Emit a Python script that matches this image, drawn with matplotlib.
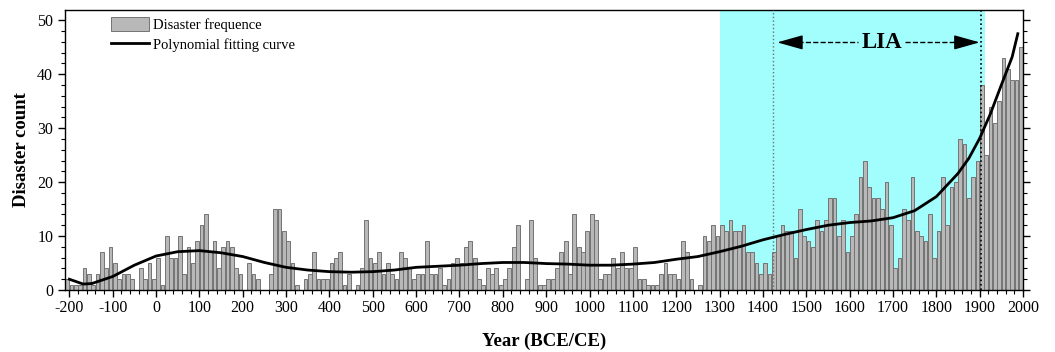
import numpy as np
import matplotlib.pyplot as plt
from matplotlib.ticker import MultipleLocator

plt.rcParams['font.family'] = ['Liberation Serif', 'DejaVu Serif']

# decade bins, plotted at the bin centres (-205 .. 1995)
bin_centres = np.arange(-205, 1996, 10)
counts = [2, 1, 1, 1, 4, 3, 1, 3, 7, 4,
          8, 5, 2, 3, 3, 2, 0, 4, 2, 5,
          2, 6, 1, 10, 6, 6, 10, 3, 8, 5,
          9, 12, 14, 7, 9, 4, 8, 9, 8, 4,
          3, 0, 5, 3, 2, 0, 0, 3, 15, 15,
          11, 9, 5, 1, 0, 2, 3, 7, 2, 2,
          2, 5, 6, 7, 1, 3, 0, 1, 4, 13,
          6, 5, 7, 3, 5, 3, 2, 7, 6, 4,
          2, 3, 3, 9, 3, 3, 4, 1, 2, 5,
          6, 5, 8, 9, 6, 2, 1, 4, 3, 4,
          1, 2, 4, 8, 12, 0, 2, 13, 6, 1,
          1, 2, 2, 4, 7, 9, 3, 14, 8, 7,
          11, 14, 13, 2, 3, 3, 6, 4, 7, 4,
          4, 8, 2, 2, 1, 1, 1, 3, 5, 3,
          3, 2, 9, 7, 2, 0, 1, 10, 9, 12,
          10, 12, 11, 13, 11, 11, 12, 7, 7, 5,
          3, 5, 3, 7, 10, 12, 11, 11, 6, 15,
          10, 9, 8, 13, 11, 13, 17, 17, 10, 13,
          7, 10, 14, 21, 24, 19, 17, 17, 15, 20,
          12, 4, 6, 15, 13, 21, 11, 10, 9, 14,
          6, 11, 21, 12, 19, 20, 28, 27, 17, 21,
          24, 38, 25, 34, 31, 35, 43, 41, 39, 39,
          45]

# polynomial fitting curve
curve_years = [-200, -168, -148, -100, -50, 0, 50, 100, 150, 200, 250, 300, 350,
               400, 450, 500, 550, 600, 650, 700, 750, 800, 850, 900, 950,
               1000, 1050, 1100, 1150, 1200, 1250, 1300, 1350, 1400, 1450,
               1500, 1550, 1600, 1650, 1700, 1750, 1800, 1850, 1875, 1900,
               1925, 1950, 1975, 1988]
curve_vals = [2.0, 1.1, 1.2, 2.5, 4.6, 6.3, 7.1, 7.3, 6.9, 6.2, 5.1, 4.2, 3.7,
              3.4, 3.3, 3.4, 3.7, 4.2, 4.4, 4.6, 4.9, 5.1, 5.1, 4.9, 4.8,
              4.6, 4.6, 4.8, 5.1, 5.7, 6.2, 7.1, 8.1, 9.3, 10.3,
              11.2, 12.0, 12.5, 12.8, 13.4, 14.7, 17.3, 21.6, 24.4, 28.1,
              32.7, 38.0, 43.2, 47.5]

fig = plt.figure(figsize=(10.55, 3.52), dpi=100)
ax = fig.add_axes([65 / 1055, 1 - 290 / 352, (1023 - 65) / 1055, (290 - 10) / 352])

ax.axvspan(1300, 1912, color='#a2fdfd', lw=0, zorder=0)
bars = ax.bar(bin_centres, counts, width=8.6, color='#b8b8b8', edgecolor='#737373',
              linewidth=0.7, label='Disaster frequence', zorder=2)
line, = ax.plot(curve_years, curve_vals, color='black', lw=2.0,
                label='Polynomial fitting curve', zorder=4)

ax.axvline(1423, color='#707070', ls=':', lw=1.0, zorder=3)
ax.axvline(1903, color='black', ls=':', lw=1.2, zorder=3)

# LIA arrow
ya = 45.9
ax.plot([1480, 1620], [ya, ya], color='black', ls='--', lw=1.0, zorder=5)
ax.plot([1727, 1845], [ya, ya], color='black', ls='--', lw=1.0, zorder=5)
ax.annotate('', xy=(1433, ya), xytext=(1488, ya), zorder=5,
            arrowprops=dict(arrowstyle='-|>,head_length=1.6,head_width=0.45',
                            color='black', lw=1.0, shrinkA=0, shrinkB=0))
ax.annotate('', xy=(1900, ya), xytext=(1840, ya), zorder=5,
            arrowprops=dict(arrowstyle='-|>,head_length=1.6,head_width=0.45',
                            color='black', lw=1.0, shrinkA=0, shrinkB=0))
ax.text(1674, ya, 'LIA', ha='center', va='center', fontsize=16.5,
        fontweight='bold', zorder=5)

ax.set_xlim(-210, 2000)
ax.set_ylim(0, 51.9)
xt = np.arange(-200, 2001, 100)
ax.set_xticks(xt)
ax.set_xticklabels([str(v) for v in xt])
ax.xaxis.set_minor_locator(MultipleLocator(20))
ax.set_yticks(np.arange(0, 51, 10))
ax.yaxis.set_minor_locator(MultipleLocator(2))
ax.tick_params(axis='both', which='major', direction='out', length=5,
               width=1.0, labelsize=11.5)
ax.tick_params(axis='both', which='minor', direction='out', length=3, width=0.8)
ax.tick_params(axis='y', which='both', right=True)
ax.tick_params(axis='x', which='major', pad=2)
for s in ax.spines.values():
    s.set_linewidth(1.0)

ax.set_xlabel('Year (BCE/CE)', fontsize=13.5, fontweight='bold', labelpad=12)
ax.set_ylabel('Disaster count', fontsize=13.5, fontweight='bold', labelpad=5)

ax.legend([bars, line], ['Disaster frequence', 'Polynomial fitting curve'],
          loc='upper left', bbox_to_anchor=(0.042, 0.995), frameon=False,
          fontsize=10.5, handlelength=2.6, handleheight=1.1,
          labelspacing=0.3, handletextpad=0.3, borderaxespad=0)

fig.savefig('out.png', dpi=100)
